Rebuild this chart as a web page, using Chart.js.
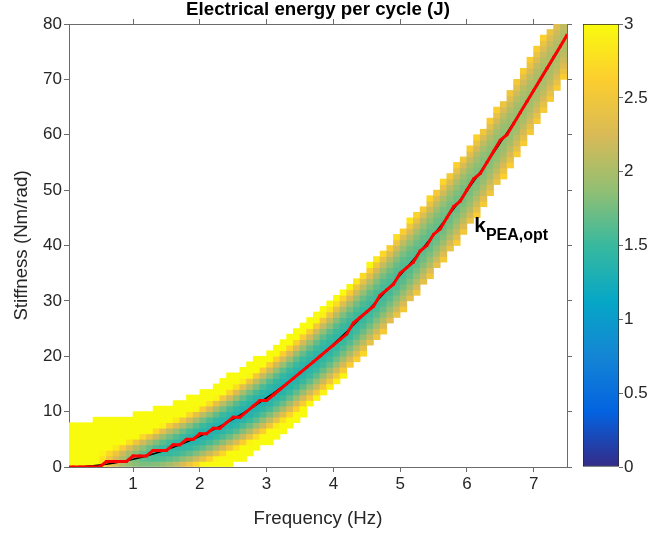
<!DOCTYPE html>
<html lang="en">
<head>
<meta charset="UTF-8">
<title>Electrical energy per cycle</title>
<script src="https://cdn.jsdelivr.net/npm/chart.js"></script>
<style>
  body { margin: 0; background: #fff; }
  #wrap { position: relative; width: 648px; height: 536px; }
  #wrap canvas { position: absolute; top: 0; }
  #main { left: 0; }
  #bar { left: 560px; }
</style>
</head>
<body>
<div id="wrap">
  <canvas id="main" width="648" height="536"></canvas>
  <canvas id="bar" width="88" height="536"></canvas>
</div>
<script>
// frequency grid (Hz), cells span freq[j]..freq[j+1]
const freq = [0.0, 0.1, 0.2, 0.3, 0.4, 0.5, 0.6, 0.7, 0.8, 0.9,
  1.0, 1.1, 1.2, 1.3, 1.4, 1.5, 1.6, 1.7, 1.8, 1.9,
  2.0, 2.1, 2.2, 2.3, 2.4, 2.5, 2.6, 2.7, 2.8, 2.9,
  3.0, 3.1, 3.2, 3.3, 3.4, 3.5, 3.6, 3.7, 3.8, 3.9,
  4.0, 4.1, 4.2, 4.3, 4.4, 4.5, 4.6, 4.7, 4.8, 4.9,
  5.0, 5.1, 5.2, 5.3, 5.4, 5.5, 5.6, 5.7, 5.8, 5.9,
  6.0, 6.1, 6.2, 6.3, 6.4, 6.5, 6.6, 6.7, 6.8, 6.9,
  7.0, 7.1, 7.2, 7.3, 7.4, 7.5];

// optimal stiffness, numerical (red) and analytical (black), Nm/rad
const kNumeric = [0, 0, 0, 0, 0, 0, 1, 1, 1, 1,
  2, 2, 2, 3, 3, 3, 4, 4, 5, 5,
  6, 6, 7, 7, 8, 9, 9, 10, 11, 12,
  12, 13, 14, 15, 16, 17, 18, 19, 20, 21,
  22, 23, 24, 26, 27, 28, 29, 31, 32, 33,
  35, 36, 37, 39, 40, 42, 43, 45, 47, 48,
  50, 52, 53, 55, 57, 59, 60, 62, 64, 66,
  68, 70, 72, 74, 76, 78];
const kAnalytic = [0, 0.01, 0.06, 0.12, 0.22, 0.35, 0.5, 0.68, 0.89, 1.12,
  1.39, 1.68, 1.99, 2.34, 2.71, 3.12, 3.55, 4.0, 4.49, 5.0,
  5.54, 6.11, 6.7, 7.33, 7.98, 8.66, 9.36, 10.1, 10.86, 11.65,
  12.47, 13.31, 14.18, 15.08, 16.01, 16.97, 17.95, 18.96, 20.0, 21.07,
  22.16, 23.28, 24.43, 25.61, 26.81, 28.05, 29.31, 30.59, 31.91, 33.25,
  34.63, 36.02, 37.45, 38.91, 40.39, 41.9, 43.43, 45.0, 46.59, 48.21,
  49.86, 51.54, 53.24, 54.97, 56.73, 58.52, 60.33, 62.17, 64.04, 65.94,
  67.87, 69.82, 71.8, 73.81, 75.84, 77.91];

// feasible stiffness range per frequency column (lower / upper bound)
const cellLo = [0, 0, 0, 0, 0, 0, 0, 0, 0, 0,
  0, 0, 0, 0, 0, 0, 0, 0, 0, 0,
  0, 0, 0, 0, 0, 1, 1, 2, 3, 4,
  4, 5, 6, 7, 8, 9, 11, 12, 13, 14,
  15, 16, 18, 19, 20, 22, 23, 24, 26, 27,
  28, 30, 31, 33, 34, 36, 37, 39, 40, 42,
  44, 45, 47, 49, 51, 52, 54, 56, 58, 60,
  62, 64, 66, 68, 70];
const cellHi = [8, 8, 8, 8, 9, 9, 9, 9, 9, 9,
  10, 10, 10, 11, 11, 11, 12, 12, 13, 13,
  14, 14, 15, 16, 17, 17, 18, 19, 20, 20,
  21, 22, 23, 24, 25, 26, 27, 28, 29, 30,
  31, 32, 33, 34, 35, 37, 38, 39, 40, 42,
  43, 45, 46, 47, 49, 50, 52, 53, 55, 56,
  58, 60, 61, 63, 65, 66, 68, 70, 72, 74,
  76, 78, 79, 80, 80];

// minimum energy per column (J) and stiffness offset where it reaches 3 J
const eMin = [3.5, 3.4, 3.3, 3.15, 3.0, 2.75, 2.45, 2.2, 2.0, 1.85,
  1.75, 1.65, 1.58, 1.52, 1.48, 1.45, 1.42, 1.40, 1.38, 1.37,
  1.36, 1.35, 1.35, 1.34, 1.34, 1.33, 1.33, 1.33, 1.33, 1.33,
  1.33, 1.34, 1.34, 1.35, 1.36, 1.37, 1.38, 1.39, 1.40, 1.41,
  1.42, 1.44, 1.45, 1.47, 1.48, 1.50, 1.52, 1.53, 1.55, 1.57,
  1.58, 1.60, 1.62, 1.64, 1.65, 1.67, 1.69, 1.71, 1.72, 1.74,
  1.76, 1.78, 1.80, 1.82, 1.84, 1.86, 1.88, 1.90, 1.92, 1.94,
  1.96, 1.97, 1.99, 2.01, 2.03];
const eRise = [2, 2, 2, 2, 2.2, 2.5, 2.8, 3.0, 3.3, 3.6,
  3.9, 4.1, 4.3, 4.5, 4.7, 4.9, 5.0, 5.1, 5.2, 5.3,
  5.4, 5.5, 5.6, 5.7, 5.8, 5.9, 6.0, 6.1, 6.2, 6.3,
  6.4, 6.5, 6.6, 6.7, 6.8, 6.9, 7.0, 7.1, 7.2, 7.3,
  7.4, 7.5, 7.6, 7.7, 7.8, 7.9, 8.0, 8.1, 8.2, 8.3,
  8.4, 8.4, 8.4, 8.4, 8.4, 8.4, 8.4, 8.4, 8.4, 8.4,
  8.4, 8.4, 8.4, 8.4, 8.4, 8.4, 8.4, 8.4, 8.4, 8.4,
  8.4, 8.4, 8.4, 8.4, 8.4];

const xTicks = [1, 2, 3, 4, 5, 6, 7];
const yTicks = [0, 10, 20, 30, 40, 50, 60, 70, 80];
const cbTicks = [0, 0.5, 1, 1.5, 2, 2.5, 3];
const cbMin = 0, cbMax = 3;

const fontFamily = '"Liberation Sans", Arial, Helvetica, sans-serif';
const textColor = '#262626';
const axisColor = '#6b6b6b';

// parula colormap
const parulaStops = ['#352a87', '#0363e1', '#1485d4', '#06a7c6', '#38b99e', '#92bf73', '#d9ba56', '#fcce2e', '#f9fb0e'];
const stopsRgb = parulaStops.map(h => [1, 3, 5].map(i => parseInt(h.substr(i, 2), 16)));
function parula(v) {
    let t = (v - cbMin) / (cbMax - cbMin);
    t = Math.max(0, Math.min(1, t));
    const p = t * (stopsRgb.length - 1);
    const i = Math.min(Math.floor(p), stopsRgb.length - 2);
    const u = p - i;
    const a = stopsRgb[i], b = stopsRgb[i + 1];
    return 'rgb(' + a.map((c, n) => Math.round(c + (b[n] - c) * u)).join(',') + ')';
}

// heat map cells
const cells = [];
const cellColors = [];
for (let j = 0; j < freq.length - 1; j++) {
    const fc = (freq[j] + freq[j + 1]) / 2;
    const kc = (kAnalytic[j] + kAnalytic[j + 1]) / 2;
    for (let k = cellLo[j]; k < cellHi[j]; k++) {
        const d = (k + 0.5 - kc) / eRise[j];
        const e = eMin[j] + Math.max(0, cbMax - eMin[j]) * d * d;
        cells.push({ x: fc, y: [k, k + 1] });
        cellColors.push(parula(e));
    }
}

function frameAxis(pos, min, max, ticks, size, showLabels) {
    const horizontal = pos === 'top' || pos === 'bottom';
    return {
        type: 'linear', position: pos, min: min, max: max, offset: false,
        afterBuildTicks: s => { s.ticks = ticks.map(v => ({ value: v })); },
        afterFit: s => { if (horizontal) s.height = size; else s.width = size; },
        grid: { drawOnChartArea: false, offset: false, tickLength: 5, color: axisColor, lineWidth: 1 },
        border: { display: true, color: axisColor, width: 1 },
        ticks: { color: showLabels ? textColor : 'rgba(0,0,0,0)', font: { family: fontFamily, size: 17 }, padding: 2, maxRotation: 0 }
    };
}

const xAxis = frameAxis('bottom', 0.04, 7.5, xTicks, 69, true);
xAxis.title = { display: true, text: 'Frequency (Hz)', color: textColor, font: { family: fontFamily, size: 18.7 }, padding: { top: 0, bottom: 6 } };
const yAxis = frameAxis('left', 0, 80, yTicks, 69, true);
yAxis.title = { display: true, text: 'Stiffness (Nm/rad)', color: textColor, font: { family: fontFamily, size: 18.7 }, padding: { top: 11, bottom: 0 } };

const textPlugin = {
    id: 'texts',
    afterDatasetsDraw(chart) {
        const { ctx, chartArea, scales } = chart;
        ctx.save();
        ctx.fillStyle = '#000';
        ctx.textAlign = 'center';
        ctx.textBaseline = 'middle';
        ctx.font = 'bold 18.7px ' + fontFamily;
        ctx.fillText('Electrical energy per cycle (J)', (chartArea.left + chartArea.right) / 2, 10);

        const px = scales.x.getPixelForValue(6.11);
        const py = scales.y.getPixelForValue(42.4);
        ctx.textAlign = 'left';
        ctx.textBaseline = 'alphabetic';
        ctx.font = 'bold 21px ' + fontFamily;
        ctx.fillText('k', px, py);
        const w = ctx.measureText('k').width;
        ctx.font = 'bold 16px ' + fontFamily;
        ctx.fillText('PEA,opt', px + w, py + 8);
        ctx.restore();
    }
};

new Chart(document.getElementById('main'), {
    type: 'bar',
    data: {
        datasets: [
            {
                type: 'line',
                data: freq.map((f, i) => ({ x: f, y: kNumeric[i] })),
                borderColor: '#ff0000',
                backgroundColor: '#ff0000',
                borderWidth: 3,
                pointStyle: 'rect',
                pointRadius: 2,
                pointBorderWidth: 0,
                tension: 0,
                order: 1
            },
            {
                type: 'line',
                data: freq.map((f, i) => ({ x: f, y: kAnalytic[i] })),
                borderColor: '#000000',
                borderWidth: 1.5,
                pointRadius: 0,
                tension: 0,
                order: 2
            },
            {
                type: 'bar',
                data: cells,
                backgroundColor: cellColors,
                borderWidth: 0,
                grouped: false,
                categoryPercentage: 1,
                barPercentage: 1,
                order: 3
            }
        ]
    },
    options: {
        responsive: false,
        animation: false,
        events: [],
        layout: { padding: 0 },
        plugins: { legend: { display: false }, tooltip: { enabled: false }, title: { display: false } },
        scales: {
            x: xAxis,
            x2: frameAxis('top', 0.04, 7.5, xTicks, 24, false),
            y: yAxis,
            y2: frameAxis('right', 0, 80, yTicks, 81, false)
        }
    },
    plugins: [textPlugin]
});

// colour bar
new Chart(document.getElementById('bar'), {
    type: 'bar',
    data: {
        labels: [''],
        datasets: [{
            data: [[cbMin, cbMax]],
            backgroundColor(c) {
                const chart = c.chart;
                if (!chart.chartArea) return null;
                const y = chart.scales.y;
                const g = chart.ctx.createLinearGradient(0, y.getPixelForValue(cbMin), 0, y.getPixelForValue(cbMax));
                parulaStops.forEach((col, i) => g.addColorStop(i / (parulaStops.length - 1), col));
                return g;
            },
            borderColor: '#262626',
            borderWidth: 1,
            borderSkipped: false,
            categoryPercentage: 1,
            barPercentage: 1
        }]
    },
    options: {
        responsive: false,
        animation: false,
        events: [],
        layout: { padding: { left: 23, top: 24, bottom: 69, right: 0 } },
        plugins: { legend: { display: false }, tooltip: { enabled: false } },
        scales: {
            x: { display: false },
            y: {
                position: 'right', min: cbMin, max: cbMax,
                afterBuildTicks: s => { s.ticks = cbTicks.map(v => ({ value: v })); },
                afterFit: s => { s.width = 29; },
                grid: { drawOnChartArea: false, tickLength: 4, color: axisColor },
                border: { display: false },
                ticks: { color: textColor, font: { family: fontFamily, size: 17 }, padding: 1, callback: v => String(v) }
            }
        }
    }
});
</script>
</body>
</html>
